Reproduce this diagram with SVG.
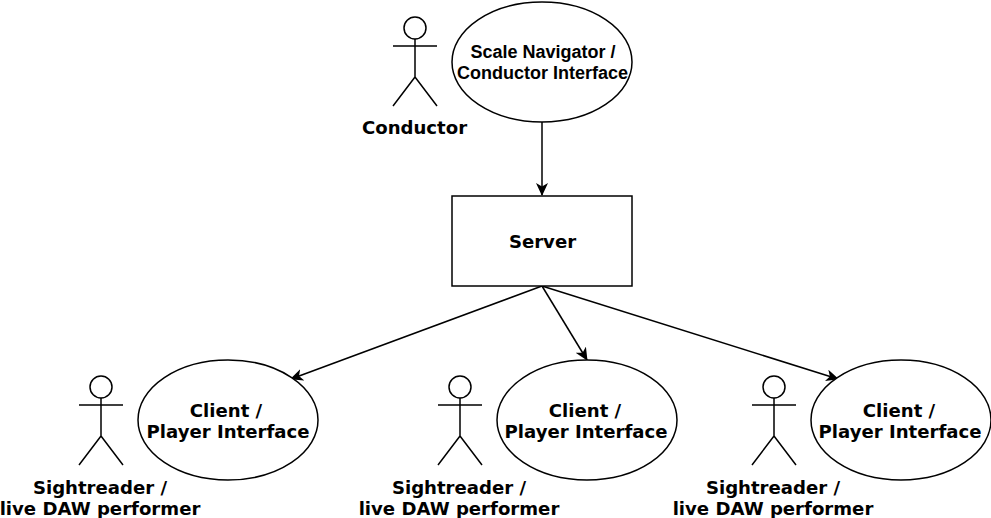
<svg xmlns="http://www.w3.org/2000/svg" width="991" height="518" viewBox="0 0 991 518">
<style>
.s{fill:#fff;stroke:#000;stroke-width:1.5}
.a{fill:none;stroke:#000;stroke-width:1.5}
text{font-family:"DejaVu Sans",sans-serif;font-weight:bold;font-size:18.1px;text-anchor:middle;fill:#000}
.h{font-family:"Liberation Sans",sans-serif;font-size:18px}
</style>
<defs>
<marker id="ah" markerUnits="userSpaceOnUse" markerWidth="14" markerHeight="12" refX="12" refY="6" orient="auto"><path d="M0 0L13 6L0 12L3.5 6Z" fill="#000"/></marker>
<g id="actor"><circle class="s" cx="0" cy="11" r="11"/><path class="a" d="M0 22V60M-22 29H22M0 60L-22 89M0 60L22 89"/></g>
</defs>
<rect width="991" height="518" fill="#fff"/>
<g id="connectors">
<path class="a" marker-end="url(#ah)" d="M542 122V195"/>
<path class="a" marker-end="url(#ah)" d="M542 286L291 379"/>
<path class="a" marker-end="url(#ah)" d="M542 286L587 360"/>
<path class="a" marker-end="url(#ah)" d="M542 286L838 379"/>
</g>
<g id="conductor-actor"><use href="#actor" x="415" y="17"/><text x="414.500" y="134">Conductor</text></g>
<g id="conductor-interface"><ellipse class="s" cx="542" cy="62" rx="90" ry="60"/><text class="h" x="543" y="58">Scale Navigator /</text><text class="h" x="542.500" y="79">Conductor Interface</text></g>
<g id="server"><rect class="s" x="452" y="196" width="180" height="90"/><text x="542.500" y="248">Server</text></g>
<g id="actor-1"><use href="#actor" x="101" y="376"/><text x="100" y="494">Sightreader /</text><text x="100" y="515">live DAW performer</text></g>
<g id="client-1"><ellipse class="s" cx="228" cy="420" rx="90" ry="60"/><text x="226" y="417">Client /</text><text x="228" y="438">Player Interface</text></g>
<g id="actor-2"><use href="#actor" x="460" y="376"/><text x="459" y="494">Sightreader /</text><text x="459" y="515">live DAW performer</text></g>
<g id="client-2"><ellipse class="s" cx="587" cy="420" rx="90" ry="60"/><text x="585" y="417">Client /</text><text x="586" y="438">Player Interface</text></g>
<g id="actor-3"><use href="#actor" x="774" y="376"/><text x="773" y="494">Sightreader /</text><text x="773" y="515">live DAW performer</text></g>
<g id="client-3"><ellipse class="s" cx="901" cy="420" rx="90" ry="60"/><text x="899" y="417">Client /</text><text x="900" y="438">Player Interface</text></g>
</svg>
